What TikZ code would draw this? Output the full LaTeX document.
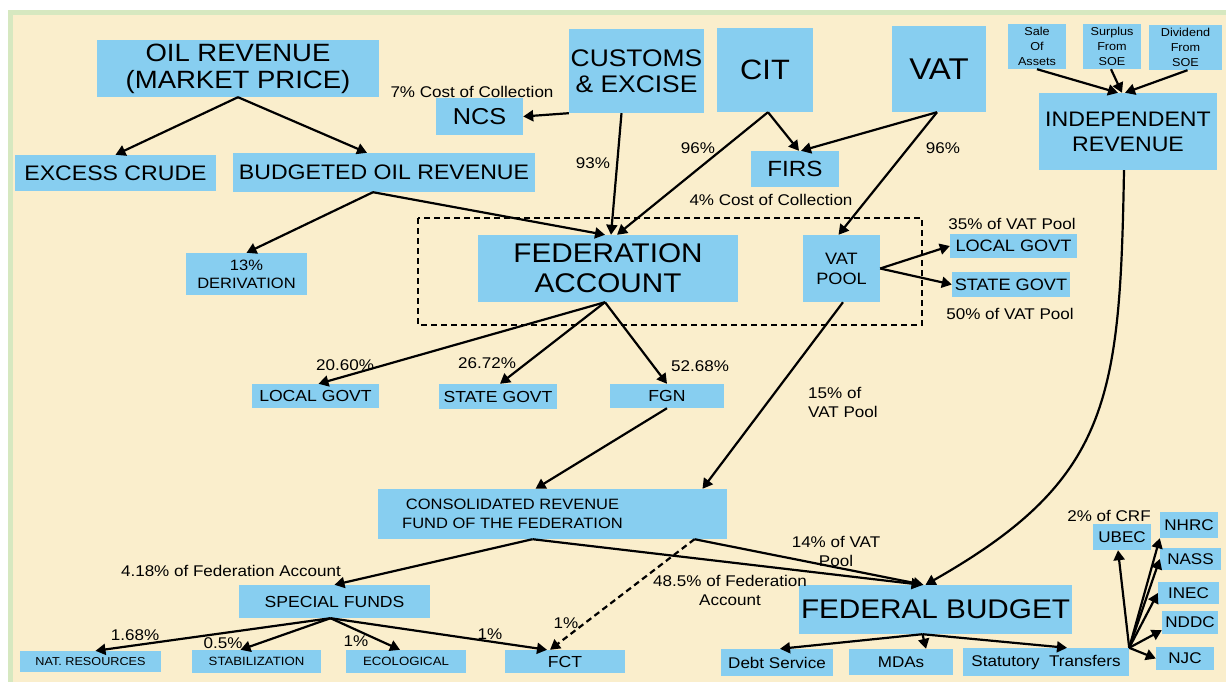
\documentclass[tikz,border=0pt]{standalone}
\usepackage{fontspec}
\setmainfont[FakeStretch=1.1]{Liberation Sans}
\usetikzlibrary{arrows.meta}
\definecolor{boxblue}{RGB}{135,206,240}
\definecolor{cream}{RGB}{250,238,204}
\definecolor{framegreen}{RGB}{214,232,192}
\newcommand{\fz}[2]{\fontsize{#1}{#2}\selectfont}
\tikzset{
  box/.style={fill=boxblue, inner sep=0pt, align=center, text=black},
  lbl/.style={inner sep=0pt, align=center, text=black, font=\fz{15.5}{19}},
  arr/.style={line width=2.2pt, -{Triangle[length=10pt,width=11pt]}},
  dasharr/.style={arr, dash pattern=on 6pt off 4pt},
}
\begin{document}
\begin{tikzpicture}[x=1pt,y=-1pt]
\useasboundingbox (0,0) rectangle (1226,682);
\fill[white] (0,0) rectangle (1226,682);
\fill[framegreen] (8,10) rectangle (1226,682);
\fill[cream] (13,15) rectangle (1226,682);

% dashed frame
\draw[line width=2pt, dash pattern=on 6pt off 4pt] (418,218) rectangle (922,325);

% nodes
\node[box, minimum width=282pt, minimum height=57pt, font=\fz{25}{27}] (oil) at (238,68.5) {OIL REVENUE\\(MARKET PRICE)};
\node[box, minimum width=201pt, minimum height=36pt, font=\fz{21}{24}] (excess) at (115.5,173) {EXCESS CRUDE};
\node[box, minimum width=302pt, minimum height=39pt, font=\fz{21}{24}] (bud) at (384,172.5) {BUDGETED OIL REVENUE};
\node[box, minimum width=87pt, minimum height=37pt, font=\fz{23}{26}] (ncs) at (479.5,116.5) {NCS};
\node[box, minimum width=135pt, minimum height=84pt, font=\fz{24}{26}] (cust) at (636.5,71) {CUSTOMS\\\& EXCISE};
\node[box, minimum width=96pt, minimum height=84pt, font=\fz{28}{30}] (cit) at (765,70) {CIT};
\node[box, minimum width=88pt, minimum height=36pt, font=\fz{22}{24}] (firs) at (795,169) {FIRS};
\node[box, minimum width=94pt, minimum height=86pt, font=\fz{30}{32}] (vat) at (939,69) {VAT};
\node[box, minimum width=58pt, minimum height=45pt, font=\fz{11.5}{15}] (sale) at (1037,46.5) {Sale\\Of\\Assets};
\node[box, minimum width=58pt, minimum height=45pt, font=\fz{11.5}{15}] (surplus) at (1112,46.5) {Surplus\\From\\SOE};
\node[box, minimum width=73pt, minimum height=45pt, font=\fz{11.5}{15}] (dividend) at (1185.5,47.5) {Dividend\\From\\SOE};
\node[box, minimum width=178pt, minimum height=77pt, font=\fz{21}{25}] (indep) at (1128,131.5) {INDEPENDENT\\REVENUE};
\node[box, minimum width=121pt, minimum height=42pt, font=\fz{15}{18}] (deriv) at (246.5,274) {13\%\\DERIVATION};
\node[box, minimum width=260pt, minimum height=67pt, font=\fz{27}{30}] (fed) at (608,268.5) {FEDERATION\\ACCOUNT};
\node[box, minimum width=77pt, minimum height=67pt, font=\fz{16.5}{20}] (vatpool) at (841.5,268.5) {VAT\\POOL};
\node[box, minimum width=127pt, minimum height=24pt, font=\fz{16.5}{19}] (lgr) at (1013.5,246) {LOCAL GOVT};
\node[box, minimum width=118pt, minimum height=25pt, font=\fz{16.5}{19}] (sgr) at (1011,284.5) {STATE GOVT};
\node[box, minimum width=127pt, minimum height=24pt, font=\fz{16}{19}] (lgl) at (315.5,396) {LOCAL GOVT};
\node[box, minimum width=118pt, minimum height=25pt, font=\fz{16}{19}] (sgm) at (498,396.5) {STATE GOVT};
\node[box, minimum width=114pt, minimum height=24pt, font=\fz{16}{19}] (fgn) at (667,396) {FGN};
\node[box, minimum width=349pt, minimum height=50pt, font=\fz{15}{19},
      label={[font=\fz{15}{19}, align=center, inner sep=0pt, xshift=-40pt]center:CONSOLIDATED REVENUE\\FUND OF THE FEDERATION}] (crf) at (552.5,514) {};
\node[box, minimum width=191pt, minimum height=33pt, font=\fz{16}{19}] (sf) at (334.5,601.5) {SPECIAL FUNDS};
\node[box, minimum width=141pt, minimum height=21pt, font=\fz{11.5}{14}] (nat) at (90.5,661.5) {NAT. RESOURCES};
\node[box, minimum width=129pt, minimum height=23pt, font=\fz{12}{14}] (stab) at (256.5,661.5) {STABILIZATION};
\node[box, minimum width=120pt, minimum height=23pt, font=\fz{12}{14}] (eco) at (406,661.5) {ECOLOGICAL};
\node[box, minimum width=120pt, minimum height=23pt, font=\fz{16}{19}] (fct) at (565,661.5) {FCT};
\node[box, minimum width=273pt, minimum height=49pt, font=\fz{27}{30}] (budget) at (935.5,609.5) {FEDERAL BUDGET};
\node[box, minimum width=112pt, minimum height=27pt, font=\fz{15.5}{18}] (debt) at (777,662.5) {Debt Service};
\node[box, minimum width=104pt, minimum height=26pt, font=\fz{15.5}{18}] (mdas) at (901,662) {MDAs};
\node[box, minimum width=166pt, minimum height=28pt, font=\fz{15.5}{18}] (stat) at (1046,662) {Statutory\ \ Transfers};
\node[box, minimum width=58pt, minimum height=26pt, font=\fz{15.5}{18}] (ubec) at (1122,537) {UBEC};
\node[box, minimum width=58pt, minimum height=26pt, font=\fz{15.5}{18}] (nhrc) at (1189,525) {NHRC};
\node[box, minimum width=61pt, minimum height=22pt, font=\fz{15.5}{18}] (nass) at (1190.5,559) {NASS};
\node[box, minimum width=61pt, minimum height=22pt, font=\fz{15.5}{18}] (inec) at (1188.5,593) {INEC};
\node[box, minimum width=56pt, minimum height=23pt, font=\fz{15.5}{18}] (nddc) at (1190,622.5) {NDDC};
\node[box, minimum width=58pt, minimum height=23pt, font=\fz{15.5}{18}] (njc) at (1185,658.5) {NJC};

% labels
\node[lbl] (l7) at (472,92) {7\% Cost of Collection};
\node[lbl] (l93) at (593,163) {93\%};
\node[lbl] (l96a) at (698,148) {96\%};
\node[lbl] (l96b) at (943,148) {96\%};
\node[lbl] (l4) at (771,200) {4\% Cost of Collection};
\node[lbl] (l35) at (1012,224) {35\% of VAT Pool};
\node[lbl] (l50) at (1010,314) {50\% of VAT Pool};
\node[lbl] (l2060) at (345,365) {20.60\%};
\node[lbl] (l2672) at (487,363) {26.72\%};
\node[lbl] (l5268) at (700,366) {52.68\%};
\node[lbl, align=left, anchor=west] (l15) at (808,402) {15\% of\\VAT Pool};
\node[lbl] (l418) at (231,571) {4.18\% of Federation Account};
\node[lbl] (l485) at (730,590.5) {48.5\% of Federation\\Account};
\node[lbl] (l14) at (836,551.5) {14\% of VAT\\Pool};
\node[lbl] (l168) at (135,635) {1.68\%};
\node[lbl] (l05) at (223,643) {0.5\%};
\node[lbl] (l1a) at (356,641) {1\%};
\node[lbl] (l1b) at (490,634) {1\%};
\node[lbl] (l1c) at (566,623) {1\%};
\node[lbl] (l2crf) at (1109,516) {2\% of CRF};

% connectors
\draw[arr] (oil.south) -- (excess.north);
\draw[arr] (oil.south) -- ([xshift=-17pt]bud.north);
\draw[arr] ([xshift=-11pt]bud.south) -- (deriv.north);
\draw[arr] ([xshift=-11pt]bud.south) -- ([xshift=-3pt]fed.north);
\draw[arr] ([xshift=-15pt]cust.south) -- ([xshift=3pt]fed.north);
\draw[arr] (cust.south west) -- (ncs.east);
\draw[arr] ([xshift=3pt]cit.south) -- ([xshift=9pt]fed.north);
\draw[arr] ([xshift=3pt]cit.south) -- ([xshift=4pt]firs.north);
\draw[arr] ([xshift=-2pt]vat.south) -- ([xshift=6pt]firs.north);
\draw[arr] ([xshift=-2pt]vat.south) -- ([xshift=-3pt]vatpool.north);
\draw[arr] (sale.south) -- ([xshift=-10pt]indep.north);
\draw[arr] ([xshift=-1pt]surplus.south) -- ([xshift=-6pt]indep.north);
\draw[arr] ([xshift=2pt]dividend.south) -- ([xshift=-3pt]indep.north);
\draw[arr] (vatpool.east) -- (lgr.west);
\draw[arr] (vatpool.east) -- (sgr.west);
\draw[arr] ([xshift=-3pt]fed.south) -- ([xshift=3pt]lgl.north);
\draw[arr] ([xshift=-3pt]fed.south) -- ([xshift=2pt]sgm.north);
\draw[arr] ([xshift=-3pt]fed.south) -- (fgn.north);
\draw[arr] (fgn.south) -- ([xshift=-17pt]crf.north);
\draw[arr] ([xshift=1.5pt]vatpool.south) -- ([xshift=150pt]crf.north);
\draw[arr] ([xshift=-4pt]indep.south) .. controls (1120,400) and (1110,480) .. ([xshift=-10pt]budget.north);
\draw[arr] ([xshift=-20pt]crf.south) -- (sf.north);
\draw[arr] ([xshift=-20pt]crf.south) -- ([xshift=-14pt]budget.north);
\draw[arr] ([xshift=142pt]crf.south) -- ([xshift=-12pt]budget.north);
\draw[dasharr] ([xshift=142pt]crf.south) -- ([xshift=-15pt]fct.north);
\draw[arr] ([xshift=-4pt]sf.south) -- ([xshift=5pt]nat.north);
\draw[arr] ([xshift=-4pt]sf.south) -- ([xshift=-16pt]stab.north);
\draw[arr] ([xshift=-4pt]sf.south) -- ([xshift=-6pt]eco.north);
\draw[arr] ([xshift=-4pt]sf.south) -- ([xshift=-18pt]fct.north);
\draw[arr] ([xshift=-13pt]budget.south) -- ([xshift=3pt]debt.north);
\draw[arr] ([xshift=-13pt]budget.south) -- ([xshift=25pt]mdas.north);
\draw[arr] ([xshift=-13pt]budget.south) -- ([xshift=21pt]stat.north);
\draw[arr] (stat.north east) -- ([xshift=-4pt]ubec.south);
\draw[arr] (stat.north east) -- (nhrc.south west);
\draw[arr] (stat.north east) -- (nass.west);
\draw[arr] (stat.north east) -- (inec.west);
\draw[arr] (stat.north east) -- ([yshift=4pt]nddc.south west);
\draw[arr] (stat.north east) -- (njc.west);
\end{tikzpicture}
\end{document}
